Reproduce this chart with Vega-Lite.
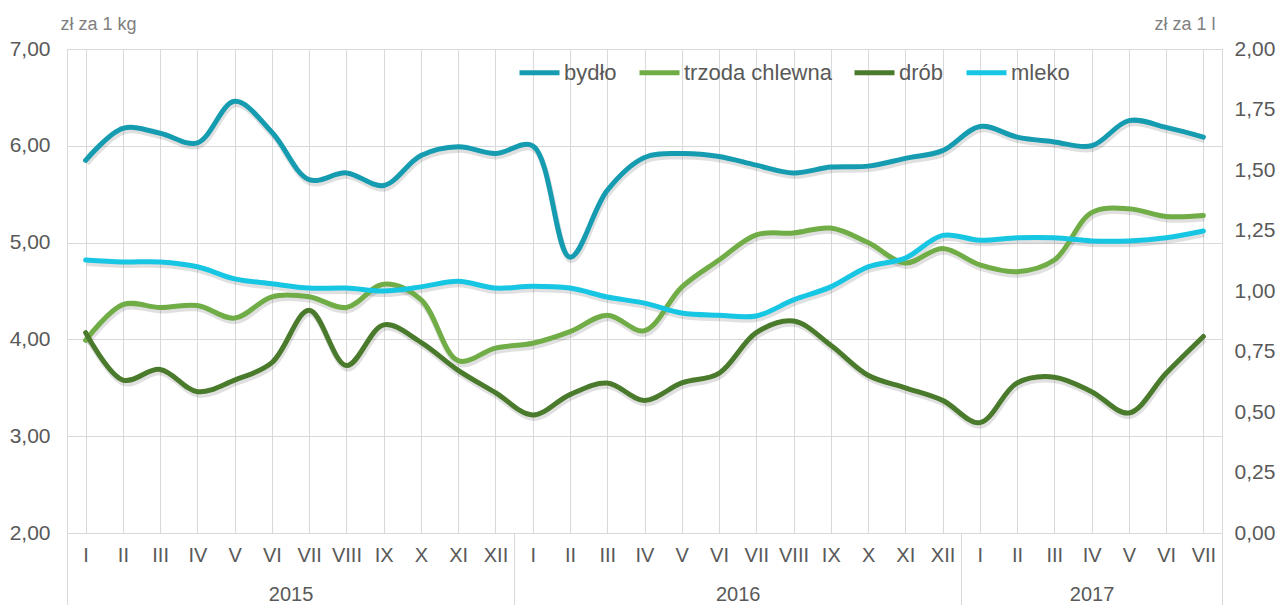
{
  "$schema": "https://vega.github.io/schema/vega-lite/v6.json",
  "width": 1155,
  "height": 484,
  "autosize": {"type": "none"},
  "padding": {"left": 67, "top": 49, "right": 60, "bottom": 72},
  "background": "white",
  "config": {
    "view": {"stroke": "#d9d9d9", "strokeWidth": 1},
    "font": "Liberation Sans",
    "axis": {"labelFont": "Liberation Sans", "titleFont": "Liberation Sans", "labelColor": "#595959", "gridColor": "#d9d9d9", "domainColor": "#d9d9d9", "tickColor": "#d9d9d9"},
    "legend": {"labelFont": "Liberation Sans"}
  },
  "datasets": {
    "ceny": [
      {"i": 0, "rok": 2015, "m": "I", "bydło": 5.85, "trzoda chlewna": 3.99, "drób": 4.07, "mleko": 1.128},
      {"i": 1, "rok": 2015, "m": "II", "bydło": 6.18, "trzoda chlewna": 4.36, "drób": 3.58, "mleko": 1.12},
      {"i": 2, "rok": 2015, "m": "III", "bydło": 6.13, "trzoda chlewna": 4.33, "drób": 3.69, "mleko": 1.12},
      {"i": 3, "rok": 2015, "m": "IV", "bydło": 6.03, "trzoda chlewna": 4.35, "drób": 3.46, "mleko": 1.10},
      {"i": 4, "rok": 2015, "m": "V", "bydło": 6.46, "trzoda chlewna": 4.22, "drób": 3.58, "mleko": 1.05},
      {"i": 5, "rok": 2015, "m": "VI", "bydło": 6.14, "trzoda chlewna": 4.44, "drób": 3.76, "mleko": 1.03},
      {"i": 6, "rok": 2015, "m": "VII", "bydło": 5.65, "trzoda chlewna": 4.44, "drób": 4.30, "mleko": 1.012},
      {"i": 7, "rok": 2015, "m": "VIII", "bydło": 5.72, "trzoda chlewna": 4.33, "drób": 3.73, "mleko": 1.012},
      {"i": 8, "rok": 2015, "m": "IX", "bydło": 5.59, "trzoda chlewna": 4.57, "drób": 4.15, "mleko": 1.00},
      {"i": 9, "rok": 2015, "m": "X", "bydło": 5.90, "trzoda chlewna": 4.41, "drób": 3.97, "mleko": 1.017},
      {"i": 10, "rok": 2015, "m": "XI", "bydło": 5.99, "trzoda chlewna": 3.78, "drób": 3.68, "mleko": 1.04},
      {"i": 11, "rok": 2015, "m": "XII", "bydło": 5.92, "trzoda chlewna": 3.91, "drób": 3.45, "mleko": 1.012},
      {"i": 12, "rok": 2016, "m": "I", "bydło": 6.00, "trzoda chlewna": 3.96, "drób": 3.22, "mleko": 1.02},
      {"i": 13, "rok": 2016, "m": "II", "bydło": 4.85, "trzoda chlewna": 4.08, "drób": 3.43, "mleko": 1.012},
      {"i": 14, "rok": 2016, "m": "III", "bydło": 5.54, "trzoda chlewna": 4.25, "drób": 3.55, "mleko": 0.975},
      {"i": 15, "rok": 2016, "m": "IV", "bydło": 5.88, "trzoda chlewna": 4.09, "drób": 3.37, "mleko": 0.95},
      {"i": 16, "rok": 2016, "m": "V", "bydło": 5.92, "trzoda chlewna": 4.54, "drób": 3.55, "mleko": 0.909},
      {"i": 17, "rok": 2016, "m": "VI", "bydło": 5.89, "trzoda chlewna": 4.82, "drób": 3.65, "mleko": 0.90},
      {"i": 18, "rok": 2016, "m": "VII", "bydło": 5.80, "trzoda chlewna": 5.08, "drób": 4.07, "mleko": 0.897},
      {"i": 19, "rok": 2016, "m": "VIII", "bydło": 5.72, "trzoda chlewna": 5.10, "drób": 4.19, "mleko": 0.963},
      {"i": 20, "rok": 2016, "m": "IX", "bydło": 5.78, "trzoda chlewna": 5.15, "drób": 3.94, "mleko": 1.017},
      {"i": 21, "rok": 2016, "m": "X", "bydło": 5.79, "trzoda chlewna": 5.00, "drób": 3.63, "mleko": 1.10},
      {"i": 22, "rok": 2016, "m": "XI", "bydło": 5.87, "trzoda chlewna": 4.79, "drób": 3.50, "mleko": 1.136},
      {"i": 23, "rok": 2016, "m": "XII", "bydło": 5.95, "trzoda chlewna": 4.94, "drób": 3.37, "mleko": 1.23},
      {"i": 24, "rok": 2017, "m": "I", "bydło": 6.20, "trzoda chlewna": 4.77, "drób": 3.14, "mleko": 1.21},
      {"i": 25, "rok": 2017, "m": "II", "bydło": 6.09, "trzoda chlewna": 4.70, "drób": 3.55, "mleko": 1.22},
      {"i": 26, "rok": 2017, "m": "III", "bydło": 6.04, "trzoda chlewna": 4.82, "drób": 3.61, "mleko": 1.22},
      {"i": 27, "rok": 2017, "m": "IV", "bydło": 6.00, "trzoda chlewna": 5.31, "drób": 3.46, "mleko": 1.207},
      {"i": 28, "rok": 2017, "m": "V", "bydło": 6.26, "trzoda chlewna": 5.35, "drób": 3.24, "mleko": 1.207},
      {"i": 29, "rok": 2017, "m": "VI", "bydło": 6.19, "trzoda chlewna": 5.27, "drób": 3.65, "mleko": 1.22},
      {"i": 30, "rok": 2017, "m": "VII", "bydło": 6.09, "trzoda chlewna": 5.28, "drób": 4.03, "mleko": 1.248}
    ]
  },
  "data": {"name": "ceny"},
  "resolve": {"scale": {"y": "independent"}, "axis": {"x": "independent", "y": "independent"}},
  "layer": [
    {
      "transform": [{"fold": ["bydło", "trzoda chlewna", "drób"], "as": ["seria", "wartosc"]}],
      "mark": {"type": "line", "interpolate": "catmull-rom", "color": "#000000", "strokeOpacity": 0.12, "strokeWidth": 6, "xOffset": 1, "yOffset": 3},
      "encoding": {
        "x": {"field": "i", "type": "quantitative", "scale": {"domain": [-0.5, 30.5], "nice": false, "zero": false},
          "axis": {"orient": "bottom", "values": [5.5, 17.5, 27], "labelExpr": "datum.value < 12 ? '2015' : (datum.value < 24 ? '2016' : '2017')", "ticks": false, "domain": false, "grid": false, "labelPadding": 51, "labelFontSize": 20, "labelOverlap": false, "labelFlush": false, "title": null}},
        "y": {"field": "wartosc", "type": "quantitative", "scale": {"domain": [2, 7], "nice": false, "zero": false}, "axis": null},
        "detail": {"field": "seria"}
      }
    },
    {
      "transform": [{"fold": ["mleko"], "as": ["seria", "wartosc"]}],
      "mark": {"type": "line", "interpolate": "catmull-rom", "color": "#000000", "strokeOpacity": 0.12, "strokeWidth": 6, "xOffset": 1, "yOffset": 3},
      "encoding": {
        "x": {"field": "i", "type": "quantitative", "scale": {"domain": [-0.5, 30.5], "nice": false, "zero": false},
          "axis": {"orient": "bottom", "values": [-0.5, 11.5, 23.5, 30.5], "labels": false, "ticks": true, "tickSize": 72, "domain": false, "grid": false, "title": null}},
        "y": {"field": "wartosc", "type": "quantitative", "scale": {"domain": [0, 2], "nice": false, "zero": false}, "axis": null}
      }
    },
    {
      "transform": [{"fold": ["bydło", "trzoda chlewna", "drób"], "as": ["seria", "wartosc"]}],
      "mark": {"type": "line", "interpolate": "catmull-rom", "strokeWidth": 5, "strokeCap": "round"},
      "encoding": {
        "x": {"field": "i", "type": "quantitative", "scale": {"domain": [-0.5, 30.5], "nice": false, "zero": false},
          "axis": {"orient": "bottom", "values": [0,1,2,3,4,5,6,7,8,9,10,11,12,13,14,15,16,17,18,19,20,21,22,23,24,25,26,27,28,29,30], "labelExpr": "['I','II','III','IV','V','VI','VII','VIII','IX','X','XI','XII'][datum.value % 12]", "grid": true, "ticks": false, "domain": true, "labelPadding": 12, "labelFontSize": 20, "labelOverlap": false, "labelFlush": false, "title": null}},
        "y": {"field": "wartosc", "type": "quantitative", "scale": {"domain": [2, 7], "nice": false, "zero": false},
          "axis": {"orient": "left", "values": [2, 3, 4, 5, 6, 7], "labelExpr": "replace(format(datum.value, '.2f'), '.', ',')", "grid": true, "ticks": false, "domain": false, "labelPadding": 17, "labelFontSize": 21, "title": "zł za 1 kg", "titleAngle": 0, "titleX": -7, "titleY": -20, "titleAlign": "left", "titleBaseline": "alphabetic", "titleFontSize": 18, "titleFontWeight": "normal", "titleColor": "#7f7f7f"}},
        "color": {"field": "seria", "type": "nominal",
          "scale": {"domain": ["bydło", "trzoda chlewna", "drób", "mleko"], "range": ["#169cb0", "#70ad47", "#4a7a2b", "#17c6e3"]},
          "legend": {"orient": "none", "legendX": 450, "legendY": 1, "direction": "horizontal", "title": null, "symbolType": "stroke", "symbolStrokeWidth": 5, "symbolSize": 1600, "labelFontSize": 22, "labelColor": "#595959", "labelOffset": 2, "columnPadding": 12}}
      }
    },
    {
      "transform": [{"fold": ["mleko"], "as": ["seria", "wartosc"]}],
      "mark": {"type": "line", "interpolate": "catmull-rom", "strokeWidth": 5, "strokeCap": "round"},
      "encoding": {
        "x": {"field": "i", "type": "quantitative", "scale": {"domain": [-0.5, 30.5], "nice": false, "zero": false}, "axis": null},
        "y": {"field": "wartosc", "type": "quantitative", "scale": {"domain": [0, 2], "nice": false, "zero": false},
          "axis": {"orient": "right", "values": [0, 0.25, 0.5, 0.75, 1, 1.25, 1.5, 1.75, 2], "labelExpr": "replace(format(datum.value, '.2f'), '.', ',')", "grid": false, "ticks": false, "domain": false, "labelPadding": 12, "labelFontSize": 21, "title": "zł za 1 l", "titleAngle": 0, "titleX": -7, "titleY": -20, "titleAlign": "right", "titleBaseline": "alphabetic", "titleFontSize": 18, "titleFontWeight": "normal", "titleColor": "#7f7f7f"}},
        "color": {"field": "seria", "type": "nominal",
          "scale": {"domain": ["bydło", "trzoda chlewna", "drób", "mleko"], "range": ["#169cb0", "#70ad47", "#4a7a2b", "#17c6e3"]},
          "legend": {"orient": "none", "legendX": 450, "legendY": 1, "direction": "horizontal", "title": null, "symbolType": "stroke", "symbolStrokeWidth": 5, "symbolSize": 1600, "labelFontSize": 22, "labelColor": "#595959", "labelOffset": 2, "columnPadding": 12}}
      }
    }
  ]
}
